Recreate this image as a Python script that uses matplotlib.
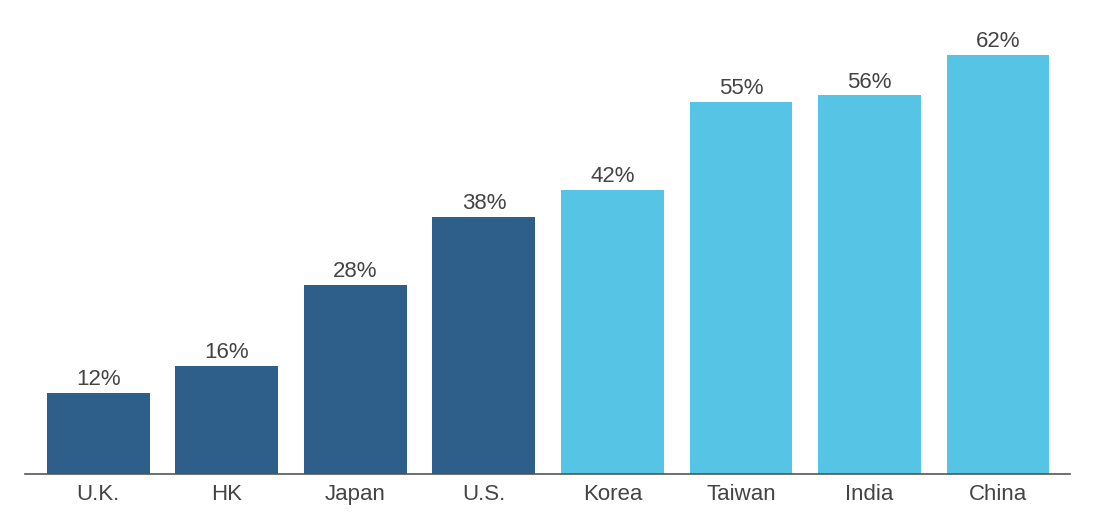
import matplotlib.pyplot as plt

# data
countries = ["U.K.", "HK", "Japan", "U.S.", "Korea", "Taiwan", "India", "China"]
shares = [12, 16, 28, 38, 42, 55, 56, 62]
groups = ["dark", "dark", "dark", "dark", "light", "light", "light", "light"]

colors = {"dark": "#2D5F8A", "light": "#56C5E5"}

plt.rcParams['font.family'] = ['Liberation Sans', 'DejaVu Sans']

fig = plt.figure(figsize=(11.02, 5.23), dpi=100)
ax = fig.add_axes([25 / 1102, 49 / 523, 1045 / 1102, 474 / 523])

x = range(len(countries))
bars = ax.bar(x, shares, width=0.8, color=[colors[g] for g in groups])

for b, v in zip(bars, shares):
    ax.annotate(f"{v}%", (b.get_x() + b.get_width() / 2, v),
                xytext=(0, 2), textcoords="offset points",
                ha="center", va="bottom", fontsize=16, color="#444444")

ax.set_xlim(-0.57, 7.56)
ax.set_ylim(0, 70.1)
ax.set_xticks(list(x))
ax.set_xticklabels(countries, fontsize=16, color="#444444")
ax.tick_params(axis="x", length=0, pad=7)
ax.set_yticks([])
for s in ["top", "right", "left"]:
    ax.spines[s].set_visible(False)
ax.spines["bottom"].set_color("#555555")
ax.spines["bottom"].set_linewidth(1.2)

fig.savefig("out.png", dpi=100)
